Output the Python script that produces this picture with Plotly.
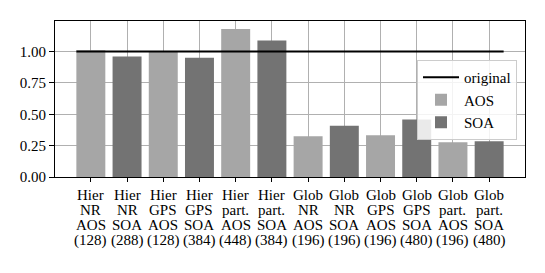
import plotly.graph_objects as go

categories = [["Hier", "NR", "AOS", "(128)"], ["Hier", "NR", "SOA", "(288)"], ["Hier", "GPS", "AOS", "(128)"],
              ["Hier", "GPS", "SOA", "(384)"], ["Hier", "part.", "AOS", "(448)"], ["Hier", "part.", "SOA", "(384)"],
              ["Glob", "NR", "AOS", "(196)"], ["Glob", "NR", "SOA", "(196)"], ["Glob", "GPS", "AOS", "(196)"],
              ["Glob", "GPS", "SOA", "(480)"], ["Glob", "part.", "AOS", "(196)"], ["Glob", "part.", "SOA", "(480)"]]
aos_idx = [0, 2, 4, 6, 8, 10]
soa_idx = [1, 3, 5, 7, 9, 11]
aos_values = [1.01, 1.00, 1.18, 0.325, 0.333, 0.277]
soa_values = [0.96, 0.95, 1.087, 0.409, 0.459, 0.285]
original_x = [-0.4, 11.4]
original_y = [1.0, 1.0]
yticks = [0, 0.25, 0.5, 0.75, 1.0]

FAM = "Liberation Serif, Times New Roman, serif"
font = dict(family=FAM, size=15, color="black")

fig = go.Figure()
fig.add_trace(go.Bar(x=aos_idx, y=aos_values, name="AOS", width=0.8, legendrank=2,
                     marker=dict(color="#a6a6a6", line=dict(width=0))))
fig.add_trace(go.Bar(x=soa_idx, y=soa_values, name="SOA", width=0.8, legendrank=3,
                     marker=dict(color="#737373", line=dict(width=0))))
fig.add_trace(go.Scatter(x=original_x, y=original_y, mode="lines", name="original", legendrank=1,
                         line=dict(color="black", width=2)))

# multi-line category labels with tight line spacing
line_step = 15.2
for i, lines in enumerate(categories):
    for j, txt in enumerate(lines):
        fig.add_annotation(x=i, y=0, xref="x", yref="paper", text=txt, showarrow=False,
                           xanchor="center", yanchor="middle", yshift=-(18 + j * line_step),
                           font=font)

# page body has 8px margin: plot area at page x 53..525, y 20..177
fig.update_layout(
    width=545, height=273,
    margin=dict(l=45, r=28, t=12, b=104),
    plot_bgcolor="white", paper_bgcolor="white",
    font=font,
    showlegend=True,
    legend=dict(x=0.983, y=0.75, xanchor="right", yanchor="top",
                bgcolor="rgba(255,255,255,0.85)", bordercolor="#cccccc", borderwidth=1,
                font=font, tracegroupgap=0, itemwidth=36),
    barmode="overlay",
)
fig.update_xaxes(range=[-0.99, 11.99], tickvals=list(range(12)), showticklabels=False,
                 showgrid=True, gridcolor="#b0b0b0", gridwidth=1,
                 showline=True, linecolor="black", linewidth=1, mirror=True,
                 ticks="outside", ticklen=4, tickcolor="black", zeroline=False)
fig.update_yaxes(range=[0, 1.243], tickvals=yticks, tickformat=".2f",
                 showgrid=True, gridcolor="#b0b0b0", gridwidth=1,
                 showline=True, linecolor="black", linewidth=1, mirror=True,
                 ticks="outside", ticklen=5, tickcolor="black", zeroline=False)

fig.write_html("out.html")
